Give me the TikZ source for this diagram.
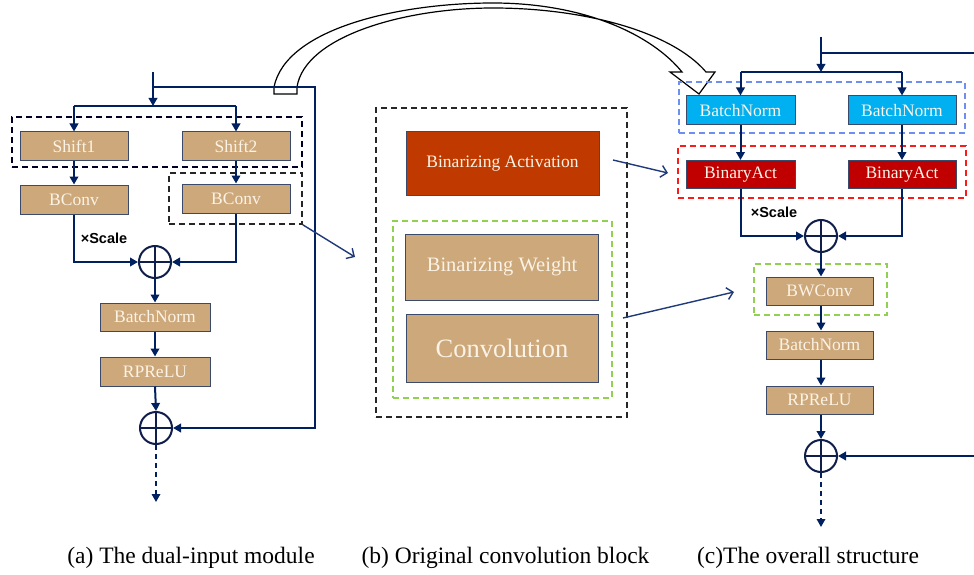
\documentclass[tikz,border=0pt]{standalone}
\usepackage{fontspec}
\setmainfont{Liberation Serif}
\newfontfamily\arialfont{Liberation Sans}
\usetikzlibrary{arrows.meta,calc}
\definecolor{navy}{HTML}{002060}
\definecolor{navyd}{HTML}{0F1E4A}
\definecolor{tan}{HTML}{CDA87B}
\definecolor{boxline}{HTML}{3B4A6B}
\definecolor{cream}{HTML}{FBF3E6}
\definecolor{actorange}{HTML}{C03A00}
\definecolor{bncyan}{HTML}{00B0F0}
\definecolor{bared}{HTML}{C00000}
\definecolor{dashblue}{HTML}{6F8FF0}
\definecolor{dashred}{HTML}{FF1A1A}
\definecolor{dashgreen}{HTML}{92D050}
\definecolor{thinblue}{HTML}{1F3A7A}
\tikzset{
  blk/.style={draw=boxline, line width=1pt, inner sep=0pt, text=cream,
    font=\fontsize{17.5}{18}\selectfont},
  tanbox/.style={blk, fill=tan, minimum width=108pt, minimum height=28pt},
  flow/.style={draw=navy, line width=2pt},
  arr/.style={flow, -{Triangle[length=8pt,width=8.5pt]}},
  outarr/.style={draw=navy, line width=1.7pt, dash pattern=on 5pt off 4pt,
    -{Triangle[length=8pt,width=8.5pt]}},
  thinarr/.style={draw=thinblue, line width=1.4pt,
    -{Straight Barb[length=6pt,width=12pt,line width=1.4pt]}},
  pluscirc/.style={circle, draw=navyd, line width=2pt, minimum size=32pt,
    inner sep=0pt,
    path picture={\draw[navyd, line width=2pt]
      (path picture bounding box.north) -- (path picture bounding box.south)
      (path picture bounding box.west) -- (path picture bounding box.east);}},
  grp/.style={line width=1.6pt, dash pattern=on 6pt off 4pt, inner sep=0pt},
  scalelbl/.style={font=\arialfont\bfseries\fontsize{14.5}{15}\selectfont, text=black},
  caption/.style={font=\fontsize{23.5}{24}\selectfont, anchor=base, text=black},
}
\begin{document}
\begin{tikzpicture}[x=1pt,y=-1pt]
\useasboundingbox[fill=white] (0,0) rectangle (974,575);

% ---------- hollow curved arrow ----------
\filldraw[fill=white, draw=black, line width=1.2pt, line join=miter]
  (274,94) -- (274,87) .. controls (286,28) and (400,3) .. (493,3)
  .. controls (585,3) and (652,35) .. (682,72)
  -- (670,72) -- (699,94) -- (715,72) -- (706,72)
  .. controls (672,32) and (585,8) .. (493,8)
  .. controls (405,8) and (305,36) .. (297,87) -- (297,94) -- cycle;

% ---------- (a) dual-input module ----------
\node[grp, draw=black!85!blue, minimum width=290pt, minimum height=50pt] (gshift) at (157,142) {};
\node[grp, draw=black!85, minimum width=133pt, minimum height=51pt] (gbconv) at (235.5,198.5) {};

\node[tanbox] (s1) at (74,146) {Shift1};
\node[tanbox] (s2) at (236,146) {Shift2};
\node[tanbox, minimum height=29pt] (bc1) at (74,199.5) {BConv};
\node[tanbox, minimum height=29pt] (bc2) at (236,198.5) {BConv};
\node[pluscirc] (p1) at (155,262) {};
\node[tanbox, minimum width=110pt] (bnA) at (155,317) {BatchNorm};
\node[tanbox, minimum width=110pt, minimum height=29pt] (rpA) at (155,371.5) {RPReLU};
\node[pluscirc] (p2) at (156,428) {};
\node[scalelbl] (scA) at (104,238) {×Scale};

\coordinate (inA) at (153,72);
\coordinate (brA) at (153,106);
\coordinate (skA) at (153,87);
\coordinate (rA) at (315,87);
\coordinate (outA) at (156,502);

\draw[arr] (inA) -- (brA);
\draw[flow] (s1.north |- brA) -- (s2.north |- brA);
\draw[arr] (s1.north |- brA) -- (s1.north);
\draw[arr] (s2.north |- brA) -- (s2.north);
\draw[arr] (s1.south) -- (bc1.north);
\draw[arr] (s2.south) -- (bc2.north);
\draw[arr] (bc1.south) |- (p1.west);
\draw[arr] (bc2.south) |- (p1.east);
\draw[arr] (p1.south) -- (bnA.north);
\draw[arr] (bnA.south) -- (rpA.north);
\draw[arr] (rpA.south) -- (p2.north);
\draw[arr] (skA) -- (rA) |- (p2.east);
\draw[outarr] (p2.south) -- (outA);

% ---------- (b) original convolution block ----------
\node[grp, draw=black!85, minimum width=251pt, minimum height=309pt] (gorig) at (501.5,262.5) {};
\node[grp, draw=dashgreen, minimum width=219pt, minimum height=177pt] (gweight) at (502.5,309.5) {};
\node[blk, fill=actorange, minimum width=193pt, minimum height=63pt] (bact) at (502.5,163.5) {Binarizing Activation};
\node[blk, fill=tan, minimum width=193pt, minimum height=66pt,
      font=\fontsize{20.5}{21}\selectfont] (bwt) at (502,267) {Binarizing Weight};
\node[blk, fill=tan, minimum width=192pt, minimum height=68pt,
      font=\fontsize{26.5}{27}\selectfont] (conv) at (502,348) {Convolution};

% ---------- (c) overall structure ----------
\node[grp, draw=dashblue, minimum width=286pt, minimum height=51pt] (gbn) at (822,107.5) {};
\node[grp, draw=dashred, minimum width=288pt, minimum height=52pt] (gact) at (822,172) {};
\node[grp, draw=dashgreen, minimum width=133pt, minimum height=51pt] (gbw) at (820.5,289.5) {};

\node[blk, fill=bncyan, minimum width=109pt, minimum height=29pt] (bnC1) at (740.5,110.5) {BatchNorm};
\node[blk, fill=bncyan, minimum width=108pt, minimum height=29pt] (bnC2) at (902,110.5) {BatchNorm};
\node[blk, fill=bared, minimum width=109pt, minimum height=28pt] (baC1) at (740.5,174.5) {BinaryAct};
\node[blk, fill=bared, minimum width=108pt, minimum height=28pt] (baC2) at (902,174.5) {BinaryAct};
\node[pluscirc] (p3) at (821,236) {};
\node[scalelbl] (scC) at (774,212) {×Scale};
\node[tanbox, minimum width=107pt] (bwc) at (819.5,291) {BWConv};
\node[tanbox, minimum width=107pt] (bnC) at (819.5,345) {BatchNorm};
\node[tanbox, minimum width=107pt] (rpC) at (819.5,400) {RPReLU};
\node[pluscirc] (p4) at (821,456) {};

\coordinate (inC) at (821,37);
\coordinate (brC) at (821,72);
\coordinate (edgeC) at (974,53);
\coordinate (edgeC2) at (974,456);
\coordinate (outC) at (821,527);

\draw[flow] (inC |- edgeC) -- (edgeC);
\draw[arr] (inC) -- (brC);
\draw[flow] (bnC1.north |- brC) -- (bnC2.north |- brC);
\draw[arr] (bnC1.north |- brC) -- (bnC1.north);
\draw[arr] (bnC2.north |- brC) -- (bnC2.north);
\draw[arr] (bnC1.south) -- (baC1.north);
\draw[arr] (bnC2.south) -- (baC2.north);
\draw[arr] (baC1.south) |- (p3.west);
\draw[arr] (baC2.south) |- (p3.east);
\draw[arr] (p3.south) -- (p3.south |- bwc.north);
\draw[arr] (bwc.south -| p3.south) -- (p3.south |- bnC.north);
\draw[arr] (bnC.south -| p3.south) -- (p3.south |- rpC.north);
\draw[arr] (rpC.south -| p3.south) -- (p4.north);
\draw[arr] (edgeC2) -- (p4.east);
\draw[outarr] (p4.south) -- (outC);

% ---------- thin pointer arrows ----------
\coordinate (t1) at (355,257);
\coordinate (f2) at (613,160);
\coordinate (t2) at (668,173);
\coordinate (f3) at (623,318);
\coordinate (t3) at (734,292);
\draw[thinarr] (gbconv.south east) -- (t1);
\draw[thinarr] (f2) -- (t2);
\draw[thinarr] (f3) -- (t3);

% ---------- captions ----------
\node[caption] (capA) at (191,563) {(a) The dual-input module};
\node[caption] (capB) at (505.5,563) {(b) Original convolution block};
\node[caption] (capC) at (808,563) {(c)The overall structure};
\end{tikzpicture}
\end{document}
